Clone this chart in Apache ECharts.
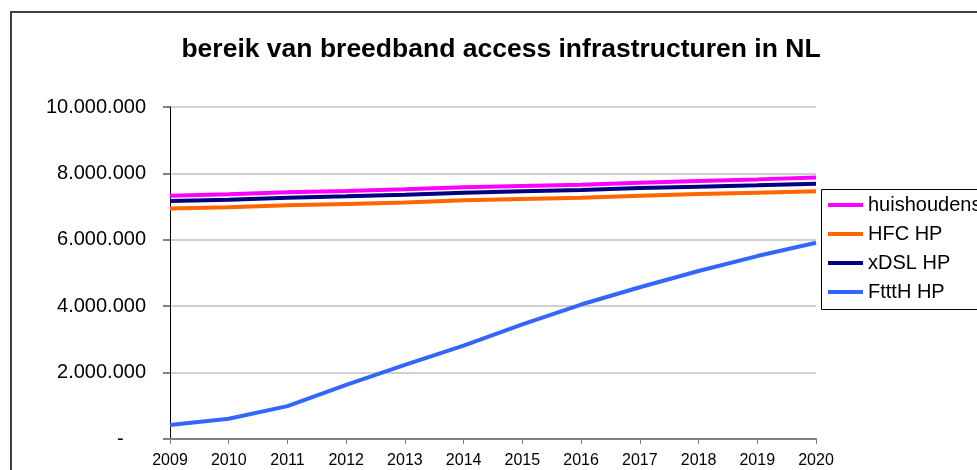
<!DOCTYPE html>
<html>
<head>
<meta charset="utf-8">
<script src="https://cdn.jsdelivr.net/npm/echarts@6/dist/echarts.min.js"></script>
<style>
html,body{margin:0;padding:0;background:#fff;}
#chart{width:977px;height:470px;}
</style>
</head>
<body>
<div id="chart"></div>
<script>
var years = ['2009','2010','2011','2012','2013','2014','2015','2016','2017','2018','2019','2020'];
var huishoudens = [7330000,7370000,7430000,7470000,7520000,7580000,7620000,7660000,7720000,7770000,7820000,7880000];
var hfcHP = [6940000,6980000,7040000,7080000,7120000,7190000,7230000,7270000,7330000,7380000,7420000,7460000];
var xdslHP = [7170000,7210000,7270000,7310000,7360000,7420000,7460000,7500000,7560000,7600000,7640000,7690000];
var ftthHP = [420000,610000,990000,1630000,2230000,2810000,3450000,4050000,4570000,5060000,5510000,5910000];
var seriesNames = ['huishoudens','HFC HP','xDSL HP','FtttH HP'];
var seriesColors = ['#FF00FF','#FF6600','#000080','#3366FF'];
var seriesData = [huishoudens, hfcHP, xdslHP, ftthHP];

var chart = echarts.init(document.getElementById('chart'), null, {renderer:'canvas'});
var fontFam = 'Liberation Sans, Arial, sans-serif';
function fmt(v){
  if (v === 0) return '-    ';
  return String(v).replace(/\B(?=(\d{3})+(?!\d))/g, '.');
}
var option = {
  backgroundColor:'#ffffff',
  animation:false,
  title:{
    text:'bereik van breedband access infrastructuren in NL',
    left:496, top:31, textAlign:'center',
    textStyle:{fontFamily:fontFam, fontSize:26.5, fontWeight:'bold', color:'#000'}
  },
  graphic:[{
    type:'rect', shape:{x:11,y:12,width:1100,height:600},
    style:{fill:'none', stroke:'#404040', lineWidth:2}, silent:true
  },{
    type:'rect', shape:{x:821.5,y:189.5,width:300,height:120},
    style:{fill:'#fff', stroke:'#000', lineWidth:1}, silent:true, z:5
  }],
  legend:{
    orient:'vertical', left:821, top:189, z:10,
    data:seriesNames.map(function(n,i){ return {name:n, icon:'rect', itemStyle:{color:seriesColors[i]}}; }),
    padding:[6,5,6,7],
    itemGap:9, itemWidth:35, itemHeight:4,
    textStyle:{fontFamily:fontFam, fontSize:20, color:'#000', lineHeight:20}
  },
  grid:{left:170, right:161, top:107, bottom:31, containLabel:false},
  xAxis:{
    type:'category', data:years, boundaryGap:false,
    axisLine:{lineStyle:{color:'#808080', width:2}},
    axisTick:{show:true, inside:false, length:5, lineStyle:{color:'#808080'}},
    axisLabel:{fontFamily:fontFam, fontSize:16, color:'#000', margin:14},
    splitLine:{show:false}
  },
  yAxis:{
    type:'value', min:0, max:10000000, interval:2000000,
    axisLine:{show:true, lineStyle:{color:'#000', width:1}},
    axisTick:{show:true, length:7, lineStyle:{color:'#808080', width:2}},
    axisLabel:{fontFamily:fontFam, fontSize:20, color:'#000', margin:24, formatter:fmt},
    splitLine:{show:true, lineStyle:{color:'#d0d0d0', width:2}}
  },
  series: seriesNames.map(function(n,i){
    return {
      name:n, type:'line', data:seriesData[i],
      symbol:'none', smooth:false,
      lineStyle:{color:seriesColors[i], width:4},
      itemStyle:{color:seriesColors[i]}
    };
  })
};
chart.setOption(option);
</script>
</body>
</html>
